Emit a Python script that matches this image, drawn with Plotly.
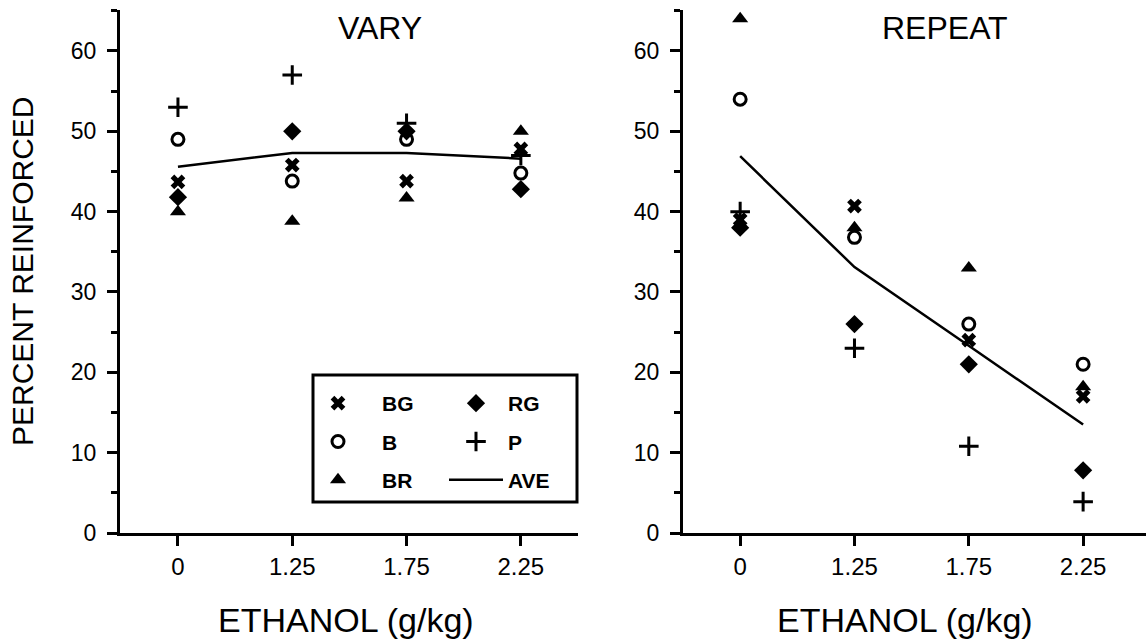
import plotly.graph_objects as go

doses = ["0", "1.25", "1.75", "2.25"]

vary_BG = [43.7, 45.8, 43.8, 47.8]
vary_B = [49.0, 43.8, 49.0, 44.8]
vary_BR = [40.0, 38.8, 41.7, 50.0]
vary_RG = [41.8, 50.0, 50.0, 42.8]
vary_P = [53.0, 57.0, 51.0, 47.0]
vary_AVE = [45.6, 47.3, 47.3, 46.6]

repeat_BG = [39.0, 40.7, 24.0, 17.0]
repeat_B = [54.0, 36.8, 26.0, 21.0]
repeat_BR = [64.0, 38.0, 33.0, 18.2]
repeat_RG = [38.0, 26.0, 21.0, 7.8]
repeat_P = [40.0, 23.0, 10.8, 3.9]
repeat_AVE = [46.9, 33.1, 23.3, 13.5]

series_names = ["BG", "B", "BR", "RG", "P"]
vary_values = [vary_BG, vary_B, vary_BR, vary_RG, vary_P]
repeat_values = [repeat_BG, repeat_B, repeat_BR, repeat_RG, repeat_P]

FONT = "Liberation Sans, Arial, sans-serif"
BLACK = "black"

W = 1148
H = 640


def px(x):
    return x / W


def py(y):
    return (H - y) / H


markers = {
    "BG": dict(symbol="x", size=13, color=BLACK, line=dict(width=0)),
    "B": dict(symbol="circle-open", size=12, color=BLACK, line=dict(width=3, color=BLACK)),
    "BR": dict(symbol="triangle-up", size=14, color=BLACK, line=dict(width=0)),
    "RG": dict(symbol="diamond", size=14, color=BLACK, line=dict(width=0)),
    "P": dict(symbol="cross-thin-open", size=14, color=BLACK, line=dict(width=3, color=BLACK)),
}
legend_of = {"BG": "legend", "B": "legend", "BR": "legend", "RG": "legend2", "P": "legend2"}

fig = go.Figure()

for panel, values, ave, xa, ya in [
    ("vary", vary_values, vary_AVE, "x", "y"),
    ("repeat", repeat_values, repeat_AVE, "x2", "y2"),
]:
    show = panel == "vary"
    for name, vals in zip(series_names, values):
        fig.add_trace(go.Scatter(
            x=doses, y=vals, mode="markers", name=name,
            marker=markers[name], xaxis=xa, yaxis=ya,
            showlegend=show, legend=legend_of[name], legendgroup=name,
            cliponaxis=False,
        ))
    fig.add_trace(go.Scatter(
        x=doses, y=ave, mode="lines", name="AVE",
        line=dict(color=BLACK, width=2.5), xaxis=xa, yaxis=ya,
        showlegend=show, legend="legend2", legendgroup="AVE",
    ))

ydom = [py(533), py(10)]

xcommon = dict(
    type="category", showline=True, linewidth=3, linecolor=BLACK, mirror=False,
    ticks="outside", ticklen=10, tickwidth=2.5, tickcolor=BLACK,
    showgrid=False, zeroline=False, automargin=False,
    tickfont=dict(family=FONT, size=24, color=BLACK),
    ticklabelstandoff=0,
)
ycommon = dict(
    range=[0, 65.1], showline=True, linewidth=3, linecolor=BLACK,
    ticks="outside", ticklen=10, tickwidth=2.5, tickcolor=BLACK,
    tickvals=[0, 10, 20, 30, 40, 50, 60],
    minor=dict(tickvals=[5, 15, 25, 35, 45, 55, 65], ticks="outside", ticklen=6,
               tickwidth=2.5, tickcolor=BLACK, showgrid=False),
    showgrid=False, zeroline=False, automargin=False,
    tickfont=dict(family=FONT, size=23, color=BLACK),
    ticklabelstandoff=6, domain=ydom,
)

fig.update_layout(
    width=W, height=H,
    margin=dict(l=0, r=0, t=0, b=0, autoexpand=False),
    paper_bgcolor="white", plot_bgcolor="white",
    xaxis=dict(xcommon, domain=[px(120), px(578)], range=[-0.507, 3.5], anchor="y"),
    yaxis=dict(ycommon, anchor="x"),
    xaxis2=dict(xcommon, domain=[px(683), px(1146)], range=[-0.5, 3.55], anchor="y2"),
    yaxis2=dict(ycommon, anchor="x2"),
    legend=dict(
        x=px(294), xanchor="left", y=py(383), yanchor="top",
        bgcolor="rgba(0,0,0,0)", borderwidth=0,
        font=dict(family=FONT, size=21, color=BLACK, weight="bold"),
        itemwidth=78, tracegroupgap=8, traceorder="grouped",
    ),
    legend2=dict(
        x=px(444), xanchor="left", y=py(383), yanchor="top",
        bgcolor="rgba(0,0,0,0)", borderwidth=0,
        font=dict(family=FONT, size=21, color=BLACK, weight="bold"),
        itemwidth=54, tracegroupgap=8, traceorder="grouped",
    ),
    showlegend=True,
)

fig.add_shape(type="rect", xref="paper", yref="paper",
              x0=px(313), x1=px(577), y0=py(502), y1=py(375),
              line=dict(color=BLACK, width=3), fillcolor="rgba(0,0,0,0)")

ann = [
    dict(text="VARY", x=380, y=28, size=32),
    dict(text="REPEAT", x=945, y=28, size=32),
    dict(text="ETHANOL (g/kg)", x=346, y=620, size=34),
    dict(text="ETHANOL (g/kg)", x=905, y=620, size=34),
]
for a in ann:
    fig.add_annotation(text=a["text"], x=px(a["x"]), y=py(a["y"]), xref="paper", yref="paper",
                       xanchor="center", yanchor="middle", showarrow=False,
                       font=dict(family=FONT, size=a["size"], color=BLACK))
fig.add_annotation(text="PERCENT REINFORCED", x=px(22), y=py(272),
                   xref="paper", yref="paper", xanchor="center", yanchor="middle",
                   textangle=-90, showarrow=False,
                   font=dict(family=FONT, size=30, color=BLACK))

fig.write_html(
    "out.html",
    config={"displayModeBar": False},
    post_script="document.body.style.margin='0';document.body.style.padding='0';",
)
